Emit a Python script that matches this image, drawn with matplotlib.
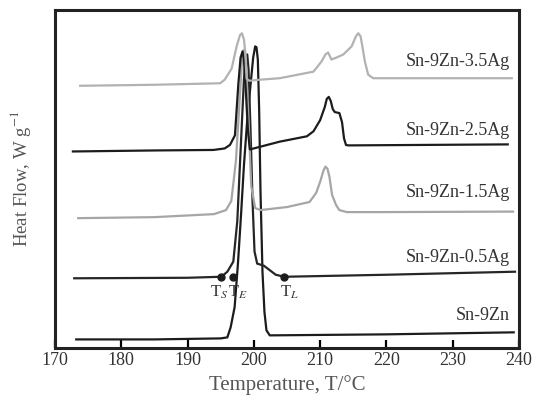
import matplotlib
matplotlib.use("Agg")
import matplotlib.pyplot as plt

plt.rcParams['font.family'] = ['Liberation Serif', 'DejaVu Serif']
plt.rcParams['mathtext.fontset'] = 'stix'

# DSC heat flow traces (temperature in C, heat flow with vertical offsets, arbitrary units)
t_0ag = [173.2, 185, 195.0, 196.0, 196.5, 197.1, 197.6, 198.1, 198.5, 199.0, 199.5, 199.9, 200.2, 200.4,
         200.6, 200.8, 201.0, 201.3, 201.6, 201.9, 202.4, 220, 239.2]
h_0ag = [13, 13, 14, 15, 25, 45, 88, 140, 185, 230, 265, 292, 303, 302,
         290, 240, 160, 80, 40, 22, 17, 18, 20]

t_05ag = [172.9, 190, 195.1, 196.0, 196.9, 197.5, 198.0, 198.5, 198.8, 199.0, 199.2, 199.5, 199.8, 200.1,
          200.5, 201.5, 202.3, 203.3, 204.6, 220, 239.4]
h_05ag = [73.5, 74, 75, 80, 90, 130, 200, 270, 294, 295, 280, 220, 150, 100,
          88, 86, 82, 77, 75, 77, 80]

t_15ag = [173.5, 185, 194, 195.8, 196.6, 197.3, 197.9, 198.3, 198.6, 198.8, 199.2, 199.6, 200.2, 201, 205,
          208.4, 209.4, 210.0, 210.5, 210.8, 211.1, 211.4, 211.8, 212.4, 212.9, 214, 220, 239.1]
h_15ag = [133, 134, 137, 141, 150, 190, 255, 298, 300, 290, 230, 165, 143, 141, 144,
          149, 158, 169, 180, 184, 182, 174, 156, 146, 141, 139, 139, 139.5]

t_25ag = [172.7, 185, 193.9, 195.6, 196.4, 197.15, 197.65, 198.0, 198.3, 198.5, 198.8, 199.1, 199.4, 203.9,
          208.0, 209.0, 210.0, 210.7, 211.0, 211.3, 211.6, 211.9, 212.2, 212.9, 213.3, 213.6, 213.9, 214.3, 238.3]
h_25ag = [199, 200, 200.5, 202, 205.5, 215, 265, 292, 298, 290, 258, 220, 201, 208.7,
          214, 219, 230, 243, 251, 253, 249, 241, 238, 237, 228, 212, 205.4, 205, 206]

t_35ag = [173.8, 185, 194.9, 195.6, 196.65, 197.4, 197.9, 198.2, 198.5, 198.7, 198.9, 199.3, 200.9, 203.9, 209.0,
          210.2, 210.8, 211.2, 211.7, 212.5, 213.5, 214.75, 215.4, 215.75, 216.1, 216.4, 216.75, 217.25, 218, 238.9]
h_35ag = [264, 265, 266.5, 270, 281, 303, 314, 316, 310, 298, 271, 269, 270, 271.5, 278,
          288, 295, 297, 290, 292, 295, 303, 313, 316, 313, 302, 288, 275, 271.5, 271.5]

labels = ['Sn-9Zn', 'Sn-9Zn-0.5Ag', 'Sn-9Zn-1.5Ag', 'Sn-9Zn-2.5Ag', 'Sn-9Zn-3.5Ag']
label_y = [37, 94.5, 158, 220, 288]
colors = ['#1c1c1c', '#262626', '#a6a6a6', '#1c1c1c', '#b2b2b2']

# characteristic temperatures on the 0.5Ag trace
marks_t = [195.1, 196.9, 204.6]
marks_h = [75, 75, 75]
marks_lbl = ['T$_S$', 'T$_E$', 'T$_L$']
marks_lbl_t = [194.8, 197.6, 205.3]

fig = plt.figure(figsize=(5.4, 4.04), dpi=100)
ax = fig.add_axes([55 / 540, 1 - 348 / 404, 464 / 540, 338 / 404])

traces = [(t_0ag, h_0ag), (t_05ag, h_05ag), (t_15ag, h_15ag), (t_25ag, h_25ag), (t_35ag, h_35ag)]
for (t, h), c in zip(traces, colors):
    ax.plot(t, h, color=c, lw=1.6, solid_joinstyle='round')

for lbl, y in zip(labels, label_y):
    ax.text(238.6, y, lbl, ha='right', va='center', fontsize=13, color='#333333')

ax.plot(marks_t, marks_h, 'o', color='#1c1c1c', ms=5)
for t, lbl in zip(marks_lbl_t, marks_lbl):
    ax.text(t, 60, lbl, ha='center', va='center', fontsize=12, color='#333333')

ax.set_xlim(170, 240)
ax.set_ylim(4.5, 339)
ax.set_xticks(range(170, 241, 10))
ax.set_yticks([])
ax.tick_params(axis='x', direction='in', length=6, width=1.6, labelsize=13, pad=3,
               labelcolor='#333333')
for s in ax.spines.values():
    s.set_linewidth(2.2)
    s.set_color('#222222')

ax.set_xlabel('Temperature, T/\u00b0C', fontsize=15, color='#555555', labelpad=4)
ax.set_ylabel('Heat Flow, W g$^{-1}$', fontsize=13.5, color='#555555', labelpad=16)

fig.savefig('out.png', dpi=100)
